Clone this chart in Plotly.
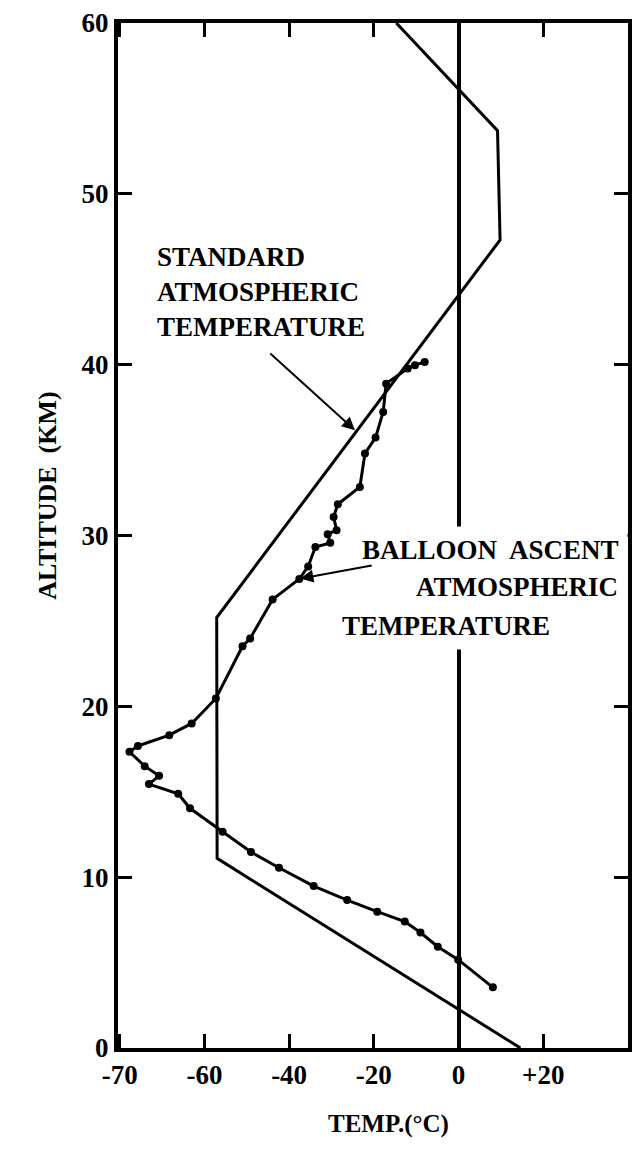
import plotly.graph_objects as go

# Balloon ascent sounding (temperature degC, altitude km)
balloon_temp = [8.1, -0.1, -4.9, -9.0, -12.7, -19.2, -26.3, -34.2, -42.4, -49.0,
                -55.7, -63.4, -66.2, -73.1, -70.7, -74.1, -77.7, -75.7, -68.3, -63.0,
                -57.3, -51.0, -49.2, -43.9, -37.6, -35.5, -33.8, -30.3, -30.9, -28.8,
                -29.5, -28.5, -23.3, -22.1, -19.6, -17.8, -17.1, -12.0, -10.3, -8.0]
balloon_alt = [3.55, 5.17, 5.93, 6.76, 7.40, 7.98, 8.66, 9.48, 10.55, 11.47,
               12.66, 14.03, 14.88, 15.45, 15.93, 16.50, 17.34, 17.68, 18.31, 19.00,
               20.46, 23.52, 23.97, 26.26, 27.45, 28.19, 29.33, 29.57, 30.08, 30.31,
               31.09, 31.83, 32.84, 34.80, 35.73, 37.23, 38.89, 39.77, 39.97, 40.16]

# Standard atmosphere profile
std_temp = [14.6, -57.0, -57.1, 9.8, 9.2, -14.7]
std_alt = [0, 11.1, 25.2, 47.3, 53.7, 60]

x_tickvals = [-80, -60, -40, -20, 0, 20]
x_ticktext = ["-70", "-60", "-40", "-20", "0", "+20"]
y_tickvals = [0, 10, 20, 30, 40, 50, 60]
y_ticktext = ["0", "10", "20", "30", "40", "50", "60"]

FONT = "Liberation Serif"

fig = go.Figure()
fig.add_trace(go.Scatter(x=std_temp, y=std_alt, mode="lines",
                         line=dict(color="black", width=3), showlegend=False))
fig.add_trace(go.Scatter(x=balloon_temp, y=balloon_alt, mode="lines+markers",
                         line=dict(color="black", width=3),
                         marker=dict(color="black", size=8), showlegend=False))

lab = dict(family=FONT, size=27, color="black", weight="bold")

fig.add_annotation(x=-71.7, y=44.24, xref="x", yref="y", xanchor="left", yanchor="middle",
                   align="left", showarrow=False, font=lab,
                   text="STANDARD<br>ATMOSPHERIC<br>TEMPERATURE")
fig.add_annotation(x=-24.45, y=36.16, ax=-44.8, ay=40.74, xref="x", yref="y",
                   axref="x", ayref="y", showarrow=True, arrowhead=2, arrowsize=1.3,
                   arrowwidth=2, arrowcolor="black", text="")

fig.add_annotation(x=39.2, y=29.14, xshift=3, xref="x", yref="y", xanchor="right",
                   yanchor="middle", showarrow=False, font=lab, text="BALLOON  ASCENT",
                   bgcolor="white", borderpad=8)
fig.add_annotation(x=38.7, y=26.97, xshift=5, xref="x", yref="y", xanchor="right",
                   yanchor="middle", showarrow=False, font=lab, text="ATMOSPHERIC",
                   bgcolor="white", borderpad=8)
fig.add_annotation(x=-27.7, y=24.69, xshift=-8, xref="x", yref="y", xanchor="left",
                   yanchor="middle", showarrow=False, font=lab, text="TEMPERATURE",
                   bgcolor="white", borderpad=8)
fig.add_annotation(x=-37.35, y=27.48, ax=-20.16, ay=28.26, xref="x", yref="y",
                   axref="x", ayref="y", showarrow=True, arrowhead=2, arrowsize=1.3,
                   arrowwidth=2, arrowcolor="black", text="")

# axis titles
fig.add_annotation(x=-0.171, y=0.539, xref="paper", yref="paper", textangle=-90,
                   showarrow=False, font=dict(family=FONT, size=26, color="black", weight="bold"),
                   text="ALTITUDE  (KM)")
fig.add_annotation(x=0.53, y=-0.09, xref="paper", yref="paper",
                   showarrow=False, font=dict(family=FONT, size=25, color="black", weight="bold"),
                   text="TEMP.(°C)")

axis_common = dict(showline=True, linecolor="black", linewidth=4, mirror="ticks",
                   ticks="inside", ticklen=14, tickwidth=3, tickcolor="black",
                   showgrid=False,
                   tickfont=dict(family=FONT, size=27, color="black", weight="bold"))

fig.update_xaxes(range=[-80.4, 40.0], tickvals=x_tickvals, ticktext=x_ticktext,
                 zeroline=True, zerolinecolor="black", zerolinewidth=4, **axis_common)
fig.update_yaxes(range=[0, 60], tickvals=y_tickvals, ticktext=y_ticktext,
                 zeroline=False, **axis_common)

fig.update_layout(width=637, height=1164,
                  margin=dict(l=118, r=5, t=23, b=116),
                  paper_bgcolor="white", plot_bgcolor="white",
                  font=dict(family=FONT, color="black"))

fig.write_html("out.html")
